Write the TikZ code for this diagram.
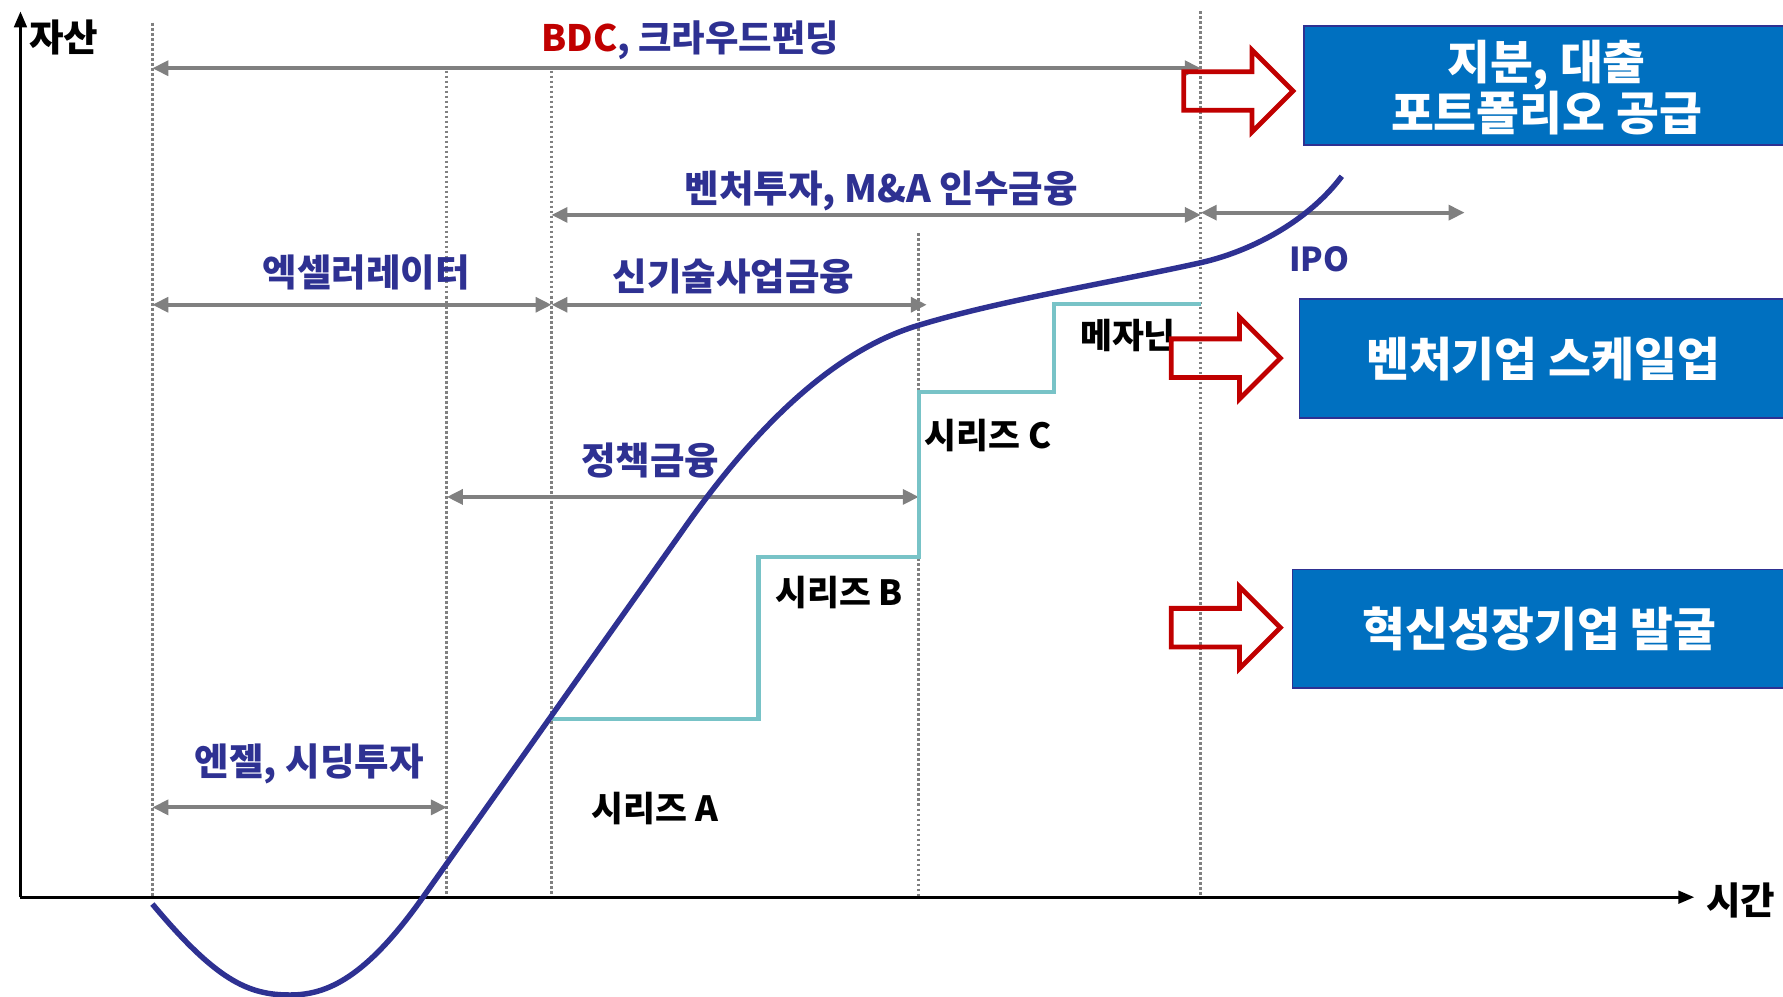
\documentclass[tikz,border=0pt]{standalone}
\usepackage{fontspec}
\setmainfont{Noto Sans CJK KR}
\usetikzlibrary{arrows.meta}
\definecolor{navy}{HTML}{2E3192}
\definecolor{gline}{HTML}{808080}
\definecolor{tealstep}{HTML}{78C3C7}
\definecolor{boxblue}{HTML}{0070C0}
\definecolor{darkred}{HTML}{C00000}
\begin{document}
\begin{tikzpicture}[x=1pt,y=-1pt,
  garrow/.style={draw=gline, line width=3.3pt, {Triangle[length=14pt,width=13pt]}-{Triangle[length=14pt,width=13pt]}},
  vdot/.style={draw=gline, line width=2.6pt, dash pattern=on 2.5pt off 1.9pt},
  bluelbl/.style={text=navy, font=\fontsize{33}{38}\selectfont\bfseries, inner sep=0pt},
  ipolbl/.style={text=navy, font=\fontsize{29}{34}\selectfont\bfseries, inner sep=0pt},
  blklbl/.style={text=black, font=\fontsize{30.5}{35}\selectfont\bfseries, inner sep=0pt},
  axislbl/.style={text=black, font=\fontsize{33}{38}\selectfont\bfseries, inner sep=0pt},
  bluebox/.style={draw=navy, line width=1.5pt, fill=boxblue, anchor=north west, inner sep=0pt},
  boxtext/.style={text=white, font=\fontsize{41}{45}\selectfont\bfseries, align=center, inner sep=0pt},
  redarr/.style={draw=darkred, line width=4.2pt, line join=miter},
  curve/.style={draw=navy, line width=4.8pt},
  stepline/.style={draw=tealstep, line width=3.6pt},
  axis/.style={draw=black, line width=2.7pt, -{Triangle[length=14pt,width=11pt]}}
]
\useasboundingbox (0,0) rectangle (1568,876);

% boxes
\node[bluebox, minimum width=440pt, minimum height=105pt] (b1) at (1146,22) {};
\node[bluebox, minimum width=440pt, minimum height=105pt] (b2) at (1142,262) {};
\node[bluebox, minimum width=440pt, minimum height=104pt] (b3) at (1136,500) {};
\node[boxtext] (t1) at (1360,77) {지분, 대출\\포트폴리오 공급};
\node[boxtext] (t2) at (1357,316) {벤처기업 스케일업};
\node[boxtext] (t3) at (1354,553) {혁신성장기업 발굴};

% vertical dotted lines
\coordinate (v1t) at (134,20);  \coordinate (v1b) at (134,790);
\coordinate (v2t) at (393,62);  \coordinate (v2b) at (393,790);
\coordinate (v3t) at (485,62);  \coordinate (v3b) at (485,790);
\coordinate (v4t) at (808,205); \coordinate (v4b) at (808,790);
\coordinate (v5t) at (1056,10); \coordinate (v5b) at (1056,790);
\draw[vdot] (v1t) -- (v1b);
\draw[vdot] (v2t) -- (v2b);
\draw[vdot] (v3t) -- (v3b);
\draw[vdot] (v4t) -- (v4b);
\draw[vdot] (v5t) -- (v5b);

% axes
\coordinate (o) at (18,789);
\coordinate (ytop) at (18,10);
\coordinate (xend) at (1490,789);
\draw[axis] (o) -- (ytop);
\draw[axis] (o) -- (xend);
\node[axislbl] (ylab) at (56,33) {자산};
\node[axislbl] (xlab) at (1531,792) {시간};

% gray range arrows
\coordinate (bdcL) at (134,60);  \coordinate (bdcR) at (1056,60);
\coordinate (vcL) at (485,189);  \coordinate (vcR) at (1056,189);
\coordinate (ipoL) at (1056,187); \coordinate (ipoR) at (1288,187);
\coordinate (acL) at (134,268);  \coordinate (acR) at (485,268);
\coordinate (ntL) at (485,268);  \coordinate (ntR) at (815,268);
\coordinate (pfL) at (393,437);  \coordinate (pfR) at (808,437);
\coordinate (anL) at (134,710);  \coordinate (anR) at (393,710);
\draw[garrow] (bdcL) -- (bdcR);
\draw[garrow] (vcL) -- (vcR);
\draw[garrow] (ipoL) -- (ipoR);
\draw[garrow] (acL) -- (acR);
\draw[garrow] (ntL) -- (ntR);
\draw[garrow] (pfL) -- (pfR);
\draw[garrow] (anL) -- (anR);

% blue labels
\node[bluelbl, font=\fontsize{32}{37}\selectfont\bfseries] (lbdc) at (607,35) {\textcolor{darkred}{BDC}, 크라우드펀딩};
\node[bluelbl] (lvc) at (775,168) {벤처투자, M\&A 인수금융};
\node[ipolbl] (lipo) at (1160,228) {IPO};
\node[bluelbl] (lac) at (322,240) {엑셀러레이터};
\node[bluelbl] (lnt) at (645,243) {신기술사업금융};
\node[bluelbl] (lpf) at (572,405) {정책금융};
\node[bluelbl] (lan) at (272,672) {엔젤, 시딩투자};

% step line
\coordinate (s0) at (485,632);
\coordinate (s1) at (667,632);
\coordinate (s2) at (667,490);
\coordinate (s3) at (808,490);
\coordinate (s4) at (808,345);
\coordinate (s5) at (927,345);
\coordinate (s6) at (927,267);
\coordinate (s7) at (1056,267);
\draw[stepline] (s0) -- (s1) -- (s2) -- (s3) -- (s4) -- (s5) -- (s6) -- (s7);

% growth curve
\coordinate (c0) at (134,795);
\coordinate (c1) at (255,875);
\coordinate (c2) at (372,789);
\coordinate (c3) at (600,467);
\coordinate (c4) at (808,286);
\coordinate (c5) at (1056,231);
\coordinate (c6) at (1180,155);
\draw[curve] (c0) .. controls (190,862) and (218,875) .. (c1)
  .. controls (288,875) and (322,859.5) .. (c2)
  -- (c3)
  .. controls (660,381) and (730,309) .. (c4)
  .. controls (880,264) and (980,248) .. (c5)
  .. controls (1100,221) and (1150,195) .. (c6);

% black labels
\node[blklbl] (sa) at (576,711) {시리즈 A};
\node[blklbl] (sb) at (738,521) {시리즈 B};
\node[blklbl] (sc) at (869,383) {시리즈 C};
\node[blklbl] (mz) at (992,295) {메자닌};

% red block arrows
\draw[redarr, shift={(1041,80)}] (0,-17) -- (60,-17) -- (60,-36) -- (96,0) -- (60,36) -- (60,17) -- (0,17) -- cycle;
\draw[redarr, shift={(1030,315)}] (0,-17) -- (60,-17) -- (60,-36) -- (96,0) -- (60,36) -- (60,17) -- (0,17) -- cycle;
\draw[redarr, shift={(1030,552)}] (0,-17) -- (60,-17) -- (60,-36) -- (96,0) -- (60,36) -- (60,17) -- (0,17) -- cycle;
\end{tikzpicture}
\end{document}
